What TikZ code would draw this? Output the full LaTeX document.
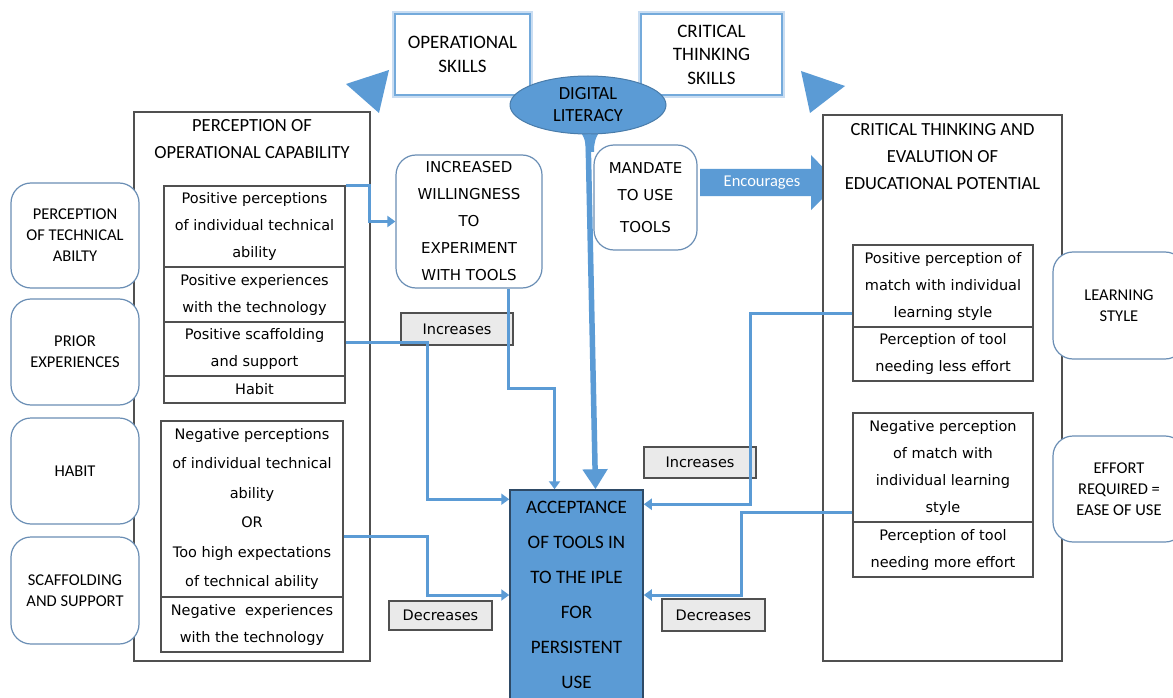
\documentclass[tikz,border=0pt]{standalone}
\usepackage{fontspec}
\setmainfont{DejaVu Sans}
\newfontfamily\calf{Carlito}
\usetikzlibrary{arrows.meta,shapes.geometric}
\definecolor{bfill}{HTML}{5B9BD5}
\definecolor{rbord}{HTML}{6A8EB5}
\definecolor{gline}{HTML}{505050}
\definecolor{glow}{HTML}{C9DDF2}
\definecolor{navy}{HTML}{2E4A66}
\definecolor{lblfill}{HTML}{EAEAEA}
\tikzset{
  cell/.style={draw=gline, line width=1.3pt, fill=white, inner sep=0pt, align=center,
    font=\fontsize{14.5}{27}\selectfont},
  bigbox/.style={draw=gline, line width=1.2pt, fill=white, inner sep=0pt},
  ttl/.style={align=center, font=\calf\fontsize{18.5}{27}\selectfont},
  rbox/.style={draw=rbord, line width=1.2pt, rounded corners=20pt, fill=white, inner sep=0pt,
    align=center, font=\calf\fontsize{16.5}{21}\selectfont},
  cbox/.style={draw=rbord, line width=1.2pt, rounded corners=20pt, fill=white, inner sep=0pt,
    align=center, font=\fontsize{15}{27}\selectfont},
  topbox/.style={draw=bfill!85, line width=1.8pt, fill=white, inner sep=0pt, align=center,
    font=\calf\fontsize{19}{23.5}\selectfont,
    preaction={draw=glow, line width=6pt}},
  lbl/.style={draw=gline, line width=1.3pt, fill=lblfill, inner sep=0pt,
    font=\fontsize{14.5}{17}\selectfont},
  conn/.style={draw=bfill, line width=3pt, -{Triangle[width=11pt,length=8pt]}},
  thickarr/.style={draw=bfill, line width=5.5pt, -{Triangle[width=24pt,length=20pt]}},
}
\begin{document}
\begin{tikzpicture}[x=1pt,y=-1pt]
\useasboundingbox (0,0) rectangle (1173,698);
\clip (0,0) rectangle (1173,698);
\fill[white] (0,0) rectangle (1173,698);

% triangles
\fill[bfill] (346,84) -- (389,70) -- (379,113) -- cycle;
\fill[bfill] (801,71) -- (845,86) -- (810,113) -- cycle;

% top boxes
\node[topbox, minimum width=135pt, minimum height=81pt] (Op) at (462.5,54.5) {OPERATIONAL\\SKILLS};
\node[topbox, minimum width=141pt, minimum height=81pt] (Cr) at (711.5,54.5) {CRITICAL\\THINKING\\SKILLS};

% digital literacy
\fill[bfill] (578,128) .. controls (585,138) and (586,142) .. (586,152) -- (594,152) .. controls (594,142) and (595,138) .. (602,128) -- cycle;
\node[ellipse, draw=bfill!80!black, line width=1pt, fill=bfill, minimum width=156pt, minimum height=58pt,
  inner sep=0pt, align=center, font=\calf\fontsize{18.5}{22}\selectfont] (DL) at (588,105) {DIGITAL\\LITERACY};

% left big box
\node[bigbox, minimum width=236pt, minimum height=549pt] (L) at (252,386.5) {};
\node[ttl] (Lt) at (252,139.5) {PERCEPTION OF\\OPERATIONAL CAPABILITY};
\node[cell, minimum width=181pt, minimum height=81pt] (p1) at (254.5,226.5) {Positive perceptions\\of individual technical\\ability};
\node[cell, minimum width=181pt, minimum height=55pt] (p2) at (254.5,294.5) {Positive experiences\\with the technology};
\node[cell, minimum width=181pt, minimum height=54pt] (p3) at (254.5,349) {Positive scaffolding\\and support};
\node[cell, minimum width=181pt, minimum height=27pt] (p4) at (254.5,389.5) {Habit};
\node[cell, minimum width=182pt, minimum height=176pt, font=\fontsize{14.5}{29.5}\selectfont] (n1) at (252,509)
  {Negative perceptions\\of individual technical\\ability\\OR\\Too high expectations\\of technical ability};
\node[cell, minimum width=182pt, minimum height=55pt] (n2) at (252,624.5) {Negative\ \ experiences\\with the technology};

% left rounded boxes
\node[rbox, minimum width=128pt, minimum height=105pt] (lr1) at (75,235.5) {PERCEPTION\\OF TECHNICAL\\ABILTY};
\node[rbox, minimum width=128pt, minimum height=106pt] (lr2) at (75,352) {PRIOR\\EXPERIENCES};
\node[rbox, minimum width=128pt, minimum height=106pt] (lr3) at (75,471) {HABIT};
\node[rbox, minimum width=128pt, minimum height=107pt] (lr4) at (75,590.5) {SCAFFOLDING\\AND SUPPORT};

% middle boxes
\node[cbox, minimum width=146pt, minimum height=133pt] (W) at (469,221.5) {INCREASED\\WILLINGNESS\\TO\\EXPERIMENT\\WITH TOOLS};
\node[cbox, minimum width=103pt, minimum height=105pt] (M) at (645.5,197.5) {MANDATE\\TO USE\\[5pt]TOOLS};

% encourages arrow
\fill[bfill] (700,169) -- (811,169) -- (811,155) -- (838,183) -- (811,210) -- (811,196) -- (700,196) -- cycle;
\node[text=white, font=\calf\fontsize{16.5}{20}\selectfont] (Enc) at (762,183) {Encourages};

% right big box
\node[bigbox, minimum width=239pt, minimum height=546pt] (R) at (942.5,388) {};
\node[ttl] (Rt) at (942.5,157) {CRITICAL THINKING AND\\EVALUTION OF\\EDUCATIONAL POTENTIAL};
\node[cell, minimum width=180pt, minimum height=82pt] (r1) at (943,286) {Positive perception of\\match with individual\\learning style};
\node[cell, minimum width=180pt, minimum height=54pt] (r2) at (943,354) {Perception of tool\\needing less effort};
\node[cell, minimum width=180pt, minimum height=109pt] (r3) at (943,467.5) {Negative perception\\of match with\\individual learning\\style};
\node[cell, minimum width=180pt, minimum height=55pt] (r4) at (943,549.5) {Perception of tool\\needing more effort};

% right rounded boxes
\node[rbox, minimum width=132pt, minimum height=107pt] (rr1) at (1119,305.5) {LEARNING\\STYLE};
\node[rbox, minimum width=132pt, minimum height=106pt] (rr2) at (1119,489) {EFFORT\\REQUIRED =\\EASE OF USE};

% acceptance
\node[draw=navy, line width=1.5pt, fill=bfill, minimum width=133pt, minimum height=210pt, inner sep=0pt,
  align=center, font=\calf\fontsize{19}{35}\selectfont] (Acc) at (576.5,595)
  {ACCEPTANCE\\OF TOOLS IN\\TO THE IPLE\\FOR\\PERSISTENT\\USE};

% labels
\node[lbl, minimum width=112pt, minimum height=32pt] (i1) at (457,329) {Increases};
\node[lbl, minimum width=112pt, minimum height=31pt] (i2) at (700,462.5) {Increases};
\node[lbl, minimum width=103pt, minimum height=29pt] (d1) at (440.5,615.5) {Decreases};
\node[lbl, minimum width=103pt, minimum height=32pt] (d2) at (713.5,615) {Decreases};

% connectors
\draw[conn] (p1.north east) -- ++(24,0) |- (W.west);
\draw[conn] ([xshift=39pt]W.south) -- ++(0,100) -| ([xshift=-22pt]Acc.north);
\draw[conn] ([yshift=7pt]p3.east) -- ++(82,0) |- ([yshift=-10pt]Acc.north west);
\draw[conn] ([yshift=-27pt]n1.east) -- ++(84,0) |- (Acc.west);
\draw[conn] ([yshift=-27pt]r1.west) -- ++(-102,0) |- ([yshift=-15pt]Acc.north east);
\draw[conn] ([yshift=-44.5pt]r3.west) -- ++(-111,0) |- (Acc.east);
\draw[thickarr] (DL.south) -- ([xshift=19pt]Acc.north);
\end{tikzpicture}
\end{document}
